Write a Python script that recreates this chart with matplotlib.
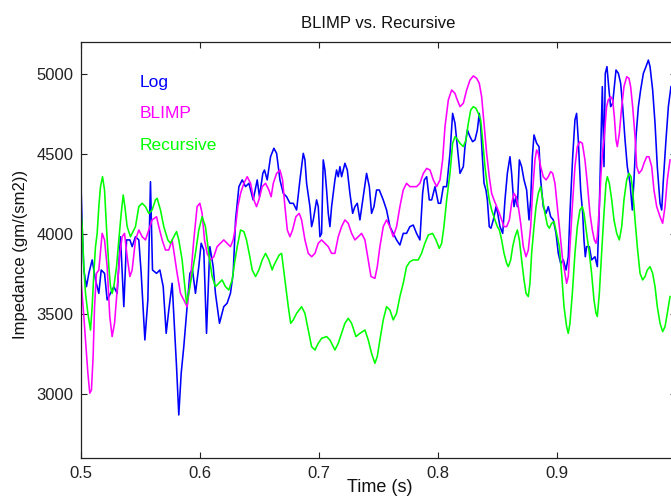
import matplotlib
matplotlib.use("Agg")
import matplotlib.pyplot as plt

plt.rcParams['font.family'] = ['Liberation Sans', 'DejaVu Sans']

# Log (blue)
log_t = [0.5000, 0.5014, 0.5028, 0.5050, 0.5070, 0.5098, 0.5126, 0.5154, 0.5174, 0.5202,
         0.5224, 0.5252, 0.5280, 0.5308, 0.5336, 0.5364, 0.5387, 0.5415, 0.5434, 0.5462,
         0.5490, 0.5510, 0.5541, 0.5566, 0.5588, 0.5605, 0.5639, 0.5667, 0.5695, 0.5720,
         0.5742, 0.5770, 0.5807, 0.5826, 0.5846, 0.5868, 0.5891, 0.5919, 0.5941, 0.5966,
         0.5994, 0.6014, 0.6036, 0.6059, 0.6087, 0.6115, 0.6134, 0.6168, 0.6204, 0.6232,
         0.6260, 0.6283, 0.6303, 0.6331, 0.6359, 0.6387, 0.6415, 0.6451, 0.6485, 0.6504,
         0.6532, 0.6546, 0.6569, 0.6597, 0.6625,
         0.6648, 0.6676, 0.6704, 0.6732, 0.6760, 0.6788, 0.6816, 0.6844, 0.6872, 0.6886,
         0.6900, 0.6928, 0.6942, 0.6956, 0.6984, 0.6998, 0.7012, 0.7026, 0.7040, 0.7054,
         0.7068, 0.7082, 0.7096, 0.7110, 0.7138, 0.7152, 0.7166, 0.7180, 0.7194, 0.7222,
         0.7242, 0.7264, 0.7287, 0.7306, 0.7326, 0.7348, 0.7376, 0.7404, 0.7427, 0.7446,
         0.7466, 0.7488, 0.7511, 0.7544, 0.7572, 0.7600, 0.7628, 0.7656, 0.7684, 0.7712,
         0.7740, 0.7768, 0.7796, 0.7824, 0.7852, 0.7875, 0.7889, 0.7909, 0.7931, 0.7951,
         0.7979, 0.8007, 0.8026, 0.8049, 0.8077, 0.8105, 0.8127, 0.8147, 0.8161,
         0.8189, 0.8217, 0.8231, 0.8251, 0.8273, 0.8295, 0.8315, 0.8335, 0.8351, 0.8363,
         0.8377, 0.8391, 0.8407, 0.8419, 0.8435, 0.8449, 0.8469, 0.8492, 0.8506, 0.8525,
         0.8548, 0.8567, 0.8587, 0.8609, 0.8623, 0.8643, 0.8660, 0.8671, 0.8688, 0.8707,
         0.8727, 0.8749, 0.8769, 0.8783, 0.8797, 0.8811, 0.8833, 0.8853, 0.8867, 0.8889,
         0.8912, 0.8931, 0.8951, 0.8973, 0.8996, 0.9015, 0.9035, 0.9057, 0.9080, 0.9099,
         0.9113, 0.9136, 0.9155, 0.9169, 0.9183, 0.9203, 0.9220, 0.9231, 0.9242, 0.9253,
         0.9276, 0.9295, 0.9323, 0.9343, 0.9360, 0.9371, 0.9385, 0.9399, 0.9410, 0.9424,
         0.9441, 0.9455, 0.9472, 0.9486, 0.9500, 0.9520, 0.9539, 0.9556, 0.9576, 0.9595,
         0.9618, 0.9637, 0.9651, 0.9668, 0.9688, 0.9707, 0.9730, 0.9752, 0.9772, 0.9786,
         0.9808, 0.9828, 0.9847, 0.9870, 0.9884, 0.9898, 0.9920, 0.9940, 0.9962]
log_v = [4421, 4046, 3775, 3671, 3754, 3838, 3713, 3629, 3775, 3754,
         3588, 3629, 3671, 3629, 3983, 3546, 3963, 3963, 3921, 3983,
         3963, 3754, 3338, 3588, 4327, 3775, 3754, 3775, 3671, 3379,
         3525, 3692, 3171, 2869, 3129, 3296, 3504, 3754, 3775, 3629,
         3796, 3942, 3900, 3379, 3921, 3796, 3629, 3442, 3546, 3567,
         3629, 3754, 4088, 4296, 4338, 4296, 4317, 4213, 4338, 4233,
         4379, 4400, 4338, 4483, 4536,
         4504, 4338, 4254, 4233, 4192, 4192, 4150, 4338, 4504, 4463,
         4317, 4171, 4046, 4088, 4213, 4171, 3983, 4004, 4463, 4400,
         4275, 4129, 4046, 4171, 4338, 4400, 4358, 4421, 4358, 4442,
         4400, 4254, 4129, 4171, 4192, 4088, 4233, 4379, 4296, 4129,
         4171, 4275, 4275, 4213, 4150, 4046, 4004, 3963, 3931, 4004,
         4004, 4046, 4056, 4004, 3963, 4254, 4338, 4358, 4213, 4213,
         4296, 4192, 4192, 4296, 4296, 4504, 4754, 4692, 4588,
         4379, 4421, 4546, 4650, 4608, 4577, 4588, 4650, 4754, 4671,
         4483, 4317, 4275, 4213, 4046, 4036, 4088, 4171, 4129, 4046,
         4004, 4213, 4379, 4483, 4379, 4171, 4233, 4171, 4463, 4421,
         4338, 4275, 4088, 4213, 4483, 4619, 4567, 4546, 4338, 4171,
         4129, 4171, 4108, 4088, 4004, 3879, 3817, 3838, 3775, 3858,
         4129, 4483, 4713, 4754, 4588, 4275, 4129, 3963, 3858, 3921,
         3921, 3838, 3858, 3796, 4171, 4504, 4921, 4421, 5004, 5046,
         4900, 4796, 4817, 4921, 5025, 5004, 4942, 4796, 4588, 4421,
         4317, 4150, 4338, 4608, 4796, 4900, 5004, 5046, 5087, 5046,
         4900, 4692, 4421, 4192, 4150, 4338, 4588, 4796, 4921]

# BLIMP (magenta)
blimp_t = [0.5000, 0.5022, 0.5042, 0.5062, 0.5078, 0.5092, 0.5106, 0.5118, 0.5134, 0.5154,
           0.5182, 0.5202, 0.5224, 0.5246, 0.5266, 0.5286, 0.5308, 0.5331, 0.5350, 0.5370,
           0.5392, 0.5415, 0.5434, 0.5462, 0.5490, 0.5518, 0.5546, 0.5574, 0.5602, 0.5639,
           0.5658, 0.5686, 0.5714, 0.5742, 0.5770, 0.5812, 0.5840, 0.5868, 0.5896, 0.5924,
           0.5952, 0.5980, 0.6003, 0.6022, 0.6042, 0.6064, 0.6092, 0.6120, 0.6148, 0.6176,
           0.6204, 0.6232, 0.6260, 0.6283, 0.6303, 0.6322, 0.6345, 0.6373, 0.6401, 0.6429,
           0.6457, 0.6479, 0.6499, 0.6527, 0.6555, 0.6583, 0.6602,
           0.6620, 0.6648, 0.6676, 0.6698, 0.6718, 0.6738, 0.6760, 0.6782, 0.6810, 0.6838,
           0.6858, 0.6886, 0.6914, 0.6942, 0.6970, 0.6998, 0.7026, 0.7054, 0.7082, 0.7110,
           0.7138, 0.7166, 0.7194, 0.7222, 0.7250, 0.7278, 0.7306, 0.7334, 0.7362, 0.7390,
           0.7418, 0.7441, 0.7474, 0.7494, 0.7516, 0.7544, 0.7572, 0.7600, 0.7628, 0.7656,
           0.7684, 0.7712, 0.7740, 0.7768, 0.7796, 0.7824, 0.7852, 0.7881, 0.7909, 0.7937,
           0.7965, 0.7993, 0.8021, 0.8043, 0.8063, 0.8091, 0.8119, 0.8147, 0.8161,
           0.8189, 0.8217, 0.8245, 0.8273, 0.8301, 0.8329, 0.8351, 0.8371, 0.8391, 0.8413,
           0.8435, 0.8455, 0.8475, 0.8497, 0.8520, 0.8539, 0.8559, 0.8581, 0.8604, 0.8623,
           0.8643, 0.8660, 0.8679, 0.8699, 0.8721, 0.8744, 0.8763, 0.8783, 0.8800, 0.8819,
           0.8833, 0.8847, 0.8867, 0.8889, 0.8912, 0.8931, 0.8951, 0.8968, 0.8987, 0.9007,
           0.9029, 0.9052, 0.9071, 0.9085, 0.9099, 0.9113, 0.9133, 0.9155, 0.9175, 0.9197,
           0.9217, 0.9239, 0.9259, 0.9281, 0.9301, 0.9318, 0.9332, 0.9343, 0.9360, 0.9374,
           0.9388, 0.9399, 0.9410, 0.9421, 0.9435, 0.9455, 0.9472, 0.9486, 0.9500, 0.9511,
           0.9528, 0.9548, 0.9567, 0.9590, 0.9609, 0.9623, 0.9640, 0.9660, 0.9674, 0.9693,
           0.9716, 0.9735, 0.9758, 0.9777, 0.9800, 0.9819, 0.9842, 0.9870, 0.9892, 0.9912,
           0.9931, 0.9954]
blimp_v = [3754, 3546, 3338, 3130, 3005, 3025, 3234, 3546, 3754, 3775,
           4004, 3963, 3796, 3484, 3359, 3442, 3650, 3879, 3983, 4004,
           3858, 3734, 3775, 3963, 4025, 3983, 3963, 4025, 4088, 4108,
           4046, 3963, 3900, 3900, 3963, 3754, 3629, 3588, 3546, 3713,
           3963, 4171, 4192, 4129, 3963, 3879, 3838, 3858, 3921, 3942,
           3963, 3942, 3921, 3963, 4046, 4171, 4254, 4317, 4358, 4317,
           4213, 4171, 4213, 4296, 4317, 4275, 4233,
           4317, 4379, 4400, 4338, 4171, 4025, 3983, 4025, 4108, 4129,
           4088, 3963, 3879, 3858, 3879, 3942, 3963, 3942, 3921, 3879,
           3879, 3983, 4046, 4088, 4067, 4004, 3963, 3983, 4004, 3963,
           3838, 3734, 3723, 3796, 3921, 4046, 4088, 4046, 3983, 4046,
           4171, 4275, 4317, 4296, 4296, 4296, 4317, 4379, 4410, 4400,
           4338, 4296, 4338, 4463, 4671, 4838, 4900, 4879, 4848,
           4796, 4817, 4900, 4962, 4988, 4973, 4942, 4858, 4692, 4504,
           4358, 4254, 4213, 4171, 4129, 4088, 4046, 4046, 4088, 4192,
           4254, 4233, 4171, 4067, 3921, 3858, 3900, 4046, 4275, 4463,
           4525, 4504, 4421, 4358, 4338, 4358, 4390, 4379, 4317, 4171,
           4004, 3838, 3754, 3692, 3734, 3921, 4171, 4421, 4546, 4577,
           4567, 4463, 4317, 4129, 4025, 3963, 3942, 3983, 4171, 4379,
           4525, 4588, 4692, 4796, 4838, 4858, 4838, 4733, 4588, 4546,
           4629, 4796, 4921, 4983, 4973, 4921, 4796, 4608, 4421, 4379,
           4400, 4442, 4483, 4483, 4421, 4275, 4171, 4108, 4067, 4171,
           4338, 4463]

# Recursive (green)
rec_t = [0.5000, 0.5014, 0.5028, 0.5042, 0.5062, 0.5084, 0.5098, 0.5112, 0.5126, 0.5140,
         0.5154, 0.5168, 0.5185, 0.5202, 0.5218, 0.5238, 0.5252, 0.5266, 0.5280, 0.5303,
         0.5322, 0.5342, 0.5359, 0.5373, 0.5392, 0.5420, 0.5462, 0.5490, 0.5518, 0.5546,
         0.5574, 0.5602, 0.5630, 0.5644, 0.5672, 0.5700, 0.5734, 0.5756, 0.5784, 0.5807,
         0.5826, 0.5854, 0.5874, 0.5891, 0.5910, 0.5938, 0.5966, 0.5994, 0.6022, 0.6050,
         0.6078, 0.6106, 0.6134, 0.6162, 0.6190, 0.6218, 0.6246, 0.6275, 0.6294, 0.6317,
         0.6345, 0.6373, 0.6395, 0.6423, 0.6443, 0.6471, 0.6499, 0.6527, 0.6555, 0.6583,
         0.6611,
         0.6620, 0.6648, 0.6670, 0.6690, 0.6718, 0.6746, 0.6766, 0.6788, 0.6816, 0.6858,
         0.6886, 0.6914, 0.6942, 0.6970, 0.6998, 0.7026, 0.7068, 0.7096, 0.7138, 0.7166,
         0.7194, 0.7222, 0.7250, 0.7278, 0.7315, 0.7348, 0.7390, 0.7418, 0.7446, 0.7474,
         0.7494, 0.7516, 0.7544, 0.7572, 0.7600, 0.7628, 0.7656, 0.7684, 0.7712, 0.7740,
         0.7768, 0.7796, 0.7838, 0.7866, 0.7894, 0.7923, 0.7959, 0.7987, 0.8015, 0.8035,
         0.8054, 0.8077, 0.8105, 0.8127, 0.8147, 0.8161,
         0.8189, 0.8217, 0.8239, 0.8259, 0.8279, 0.8301, 0.8323, 0.8343, 0.8363, 0.8379,
         0.8399, 0.8419, 0.8435, 0.8455, 0.8483, 0.8503, 0.8520, 0.8539, 0.8559, 0.8581,
         0.8595, 0.8615, 0.8632, 0.8651, 0.8671, 0.8688, 0.8707, 0.8727, 0.8744, 0.8763,
         0.8777, 0.8791, 0.8811, 0.8828, 0.8847, 0.8867, 0.8884, 0.8903, 0.8923, 0.8940,
         0.8959, 0.8979, 0.9001, 0.9024, 0.9043, 0.9063, 0.9085, 0.9099, 0.9113, 0.9133,
         0.9155, 0.9175, 0.9197, 0.9217, 0.9231, 0.9253, 0.9276, 0.9295, 0.9315, 0.9332,
         0.9343, 0.9360, 0.9379, 0.9399, 0.9416, 0.9427, 0.9444, 0.9464, 0.9483, 0.9506,
         0.9528, 0.9548, 0.9567, 0.9590, 0.9609, 0.9626, 0.9640, 0.9660, 0.9679, 0.9702,
         0.9724, 0.9744, 0.9763, 0.9786, 0.9808, 0.9828, 0.9847, 0.9870, 0.9892, 0.9912,
         0.9931, 0.9954]
rec_v = [4192, 4046, 3796, 3629, 3504, 3400, 3546, 3754, 3921, 4004,
         4171, 4296, 4358, 4275, 4046, 3796, 3671, 3629, 3671, 3796,
         3963, 4129, 4244, 4171, 4046, 3983, 4046, 4171, 4192, 4171,
         4129, 4150, 4213, 4223, 4150, 4046, 3963, 3942, 3983, 4015,
         3963, 3838, 3692, 3567, 3629, 3754, 3879, 4025, 4108, 4046,
         3879, 3734, 3671, 3692, 3713, 3671, 3650, 3713, 3817, 3921,
         4025, 4015, 3963, 3858, 3775, 3734, 3775, 3838, 3879, 3838,
         3775,
         3796, 3838, 3869, 3879, 3713, 3546, 3442, 3463, 3504, 3546,
         3504, 3400, 3296, 3275, 3317, 3348, 3359, 3338, 3275, 3317,
         3379, 3442, 3473, 3442, 3359, 3379, 3400, 3338, 3254, 3192,
         3234, 3338, 3463, 3546, 3525, 3463, 3504, 3609, 3692, 3796,
         3827, 3838, 3838, 3879, 3942, 3994, 4004, 3963, 3910, 3942,
         4046, 4213, 4379, 4567, 4608, 4598,
         4567, 4546, 4588, 4692, 4775, 4796, 4785, 4754, 4713, 4588,
         4421, 4296, 4213, 4150, 4088, 4046, 4025, 3963, 3879, 3817,
         3796, 3838, 3921, 3983, 4025, 3963, 3838, 3713, 3629, 3609,
         3692, 3879, 4046, 4171, 4254, 4296, 4213, 4129, 4056, 4036,
         4067, 4077, 4004, 3921, 3754, 3546, 3421, 3379, 3442, 3629,
         3879, 4046, 4150, 4171, 4129, 4004, 3879, 3754, 3588, 3504,
         3484, 3629, 3879, 4129, 4317, 4358, 4317, 4213, 4088, 4004,
         3963, 4046, 4213, 4338, 4379, 4358, 4275, 4088, 3921, 3754,
         3713, 3734, 3775, 3796, 3754, 3671, 3546, 3442, 3390, 3421,
         3504, 3609]

W, H = 671, 497
fig = plt.figure(figsize=(W / 100, H / 100), dpi=100)
# axes run from x=0.5 to 1.0; the right edge falls just outside the picture
ax = fig.add_axes([80.5 / W, 39 / H, 595 / W, 416 / H])

ax.plot(log_t, log_v, color='#0000ff', lw=1.15)
ax.plot(blimp_t, blimp_v, color='#ff00ff', lw=1.15)
ax.plot(rec_t, rec_v, color='#00ff00', lw=1.15)

ax.set_xlim(0.5, 1.0)
ax.set_ylim(2600, 5200)
ax.set_xticks([0.5, 0.6, 0.7, 0.8, 0.9])
ax.set_xticklabels(['0.5', '0.6', '0.7', '0.8', '0.9'])
ax.set_yticks([3000, 3500, 4000, 4500, 5000])

ax.tick_params(direction='in', length=4.5, width=0.8, top=True, right=True,
               labelsize=12, colors='#222222')
ax.tick_params(axis='x', pad=6)
ax.tick_params(axis='y', pad=5)
for s in ax.spines.values():
    s.set_linewidth(0.9)
    s.set_color('#222222')

ax.text(0.55, 4950, 'Log', color='#0000ff', fontsize=12.5, va='center')
ax.text(0.55, 4750, 'BLIMP', color='#ff00ff', fontsize=12.5, va='center')
ax.text(0.55, 4550, 'Recursive', color='#00ff00', fontsize=12.5, va='center')

ax.set_title('BLIMP vs. Recursive', fontsize=12, pad=10, color='#111111')
ax.set_xlabel('Time (s)', fontsize=13, color='#111111')
ax.set_ylabel('Impedance (gm/(sm2))', fontsize=12, color='#111111')
ax.xaxis.set_label_coords(0.503, -0.05)
ax.yaxis.set_label_coords(-0.088, 0.49)

fig.savefig('out.png', dpi=100)
